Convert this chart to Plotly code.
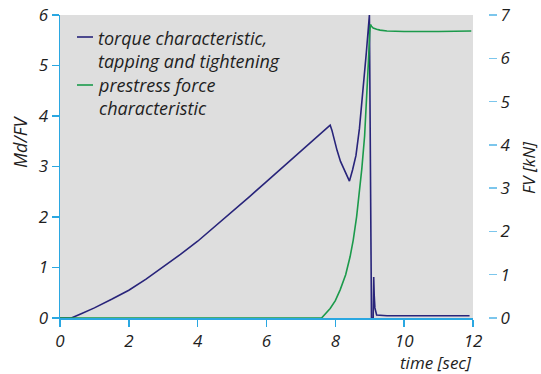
import plotly.graph_objects as go

# ---- data ----
torque_t = [0, 0.33, 0.6, 1.0, 1.5, 2.0, 2.5, 3.0, 3.5, 4.0, 4.5, 5.0, 5.5, 6.0, 6.5, 7.0, 7.5, 7.85,
            7.9, 7.95, 8.05, 8.15, 8.25, 8.41, 8.5, 8.6, 8.7, 8.8, 8.9, 8.99, 9.05, 9.1, 9.115, 9.13,
            9.15, 9.2, 9.5, 11.9]
torque_v = [0, 0, 0.08, 0.2, 0.37, 0.55, 0.77, 1.01, 1.26, 1.52, 1.81, 2.10, 2.40, 2.70, 3.0, 3.3, 3.6, 3.82,
            3.72, 3.57, 3.32, 3.10, 2.94, 2.71, 2.93, 3.22, 3.75, 4.45, 5.25, 6.0, 0.0, 0.0, 0.81, 0.45,
            0.2, 0.06, 0.045, 0.045]

force_t = [0, 7.6, 7.85, 8.0, 8.14, 8.3, 8.43, 8.52, 8.62, 8.7, 8.77, 8.85, 8.91, 8.96, 9.0, 9.02,
           9.05, 9.1, 9.2, 9.3, 9.5, 10.0, 11.0, 11.95]
force_v = [0, 0, 0.22, 0.4, 0.65, 1.0, 1.42, 1.8, 2.35, 2.9, 3.45, 4.2, 5.03, 5.9, 6.6, 6.78,
           6.74, 6.70, 6.67, 6.65, 6.63, 6.62, 6.62, 6.63]

x_ticks = [0, 2, 4, 6, 8, 10, 12]
y1_ticks = [0, 1, 2, 3, 4, 5, 6]
y2_ticks = [0, 1, 2, 3, 4, 5, 6, 7]

names = ["torque characteristic,<br>tapping and tightening", "prestress force<br>characteristic"]

NAVY = "#28247a"
GREEN = "#1b9a4b"
AXBLUE = "#2aa7e1"
TICK2 = "#7cc6ec"
TXT = "#1e1e1e"
FONT = dict(family="Open Sans", size=17, color=TXT, style="italic")
LFONT = dict(family="Open Sans", size=18, color=TXT, style="italic")

# page body margin is removed (post_script), so screen px == figure px
W, H = 541, 374
P_L, P_R, P_T, P_B = 60, 473, 15, 318          # plot area in px
ML, MT, MR = P_L, P_T, 0
MB = H - P_B
pw = W - ML - MR
ph = H - MT - MB


def px(xs):
    return (xs - ML) / pw


def py(ys):
    return 1 - (ys - MT) / ph


dom_end = px(P_R)

fig = go.Figure()
fig.add_trace(go.Scatter(x=force_t, y=force_v, yaxis="y2", mode="lines", name=names[1],
                         line=dict(color=GREEN, width=1.6), showlegend=False, cliponaxis=False))
fig.add_trace(go.Scatter(x=torque_t, y=torque_v, mode="lines", name=names[0],
                         line=dict(color=NAVY, width=1.6), showlegend=False, cliponaxis=False))

shapes = [
    dict(type="line", xref="paper", yref="paper", x0=px(77), x1=px(93), y0=py(37), y1=py(37),
         line=dict(color=NAVY, width=1.6)),
    dict(type="line", xref="paper", yref="paper", x0=px(77), x1=px(93), y0=py(85), y1=py(85),
         line=dict(color=GREEN, width=1.6)),
]

annotations = [
    dict(text=names[0], xref="paper", yref="paper", x=px(96), y=py(49.5), xanchor="left",
         yanchor="middle", align="left", showarrow=False, font=LFONT),
    dict(text=names[1], xref="paper", yref="paper", x=px(96), y=py(96), xanchor="left",
         yanchor="middle", align="left", showarrow=False, font=LFONT),
    dict(text="time [sec]", xref="paper", yref="paper", x=px(474), y=py(362.5), xanchor="right",
         yanchor="middle", showarrow=False, font=FONT),
    dict(text="Md/FV", xref="paper", yref="paper", x=px(20), y=py(142), xanchor="center",
         yanchor="middle", textangle=-90, showarrow=False, font=LFONT),
    dict(text="FV [kN]", xref="paper", yref="paper", x=px(528), y=py(168), xanchor="center",
         yanchor="middle", textangle=-90, showarrow=False, font=FONT),
]

fig.update_layout(
    template="none",
    width=W, height=H,
    margin=dict(l=ML, r=MR, t=MT, b=MB, pad=0),
    paper_bgcolor="white",
    plot_bgcolor="#dedede",
    font=FONT,
    showlegend=False,
    hovermode=False,
    xaxis=dict(domain=[0, dom_end], range=[0, 12], tickvals=x_ticks, showgrid=False, zeroline=False,
               showline=True, linecolor=AXBLUE, linewidth=1.5, ticks="outside", ticklen=7,
               tickcolor=AXBLUE, tickwidth=1.5, automargin=False, tickfont=FONT,
               ticklabeloverflow="allow", layer="below traces"),
    yaxis=dict(range=[0, 6], tickvals=y1_ticks, showgrid=False, zeroline=False,
               showline=True, linecolor=AXBLUE, linewidth=1.5, ticks="outside", ticklen=7,
               tickcolor=AXBLUE, tickwidth=1.5, automargin=False, tickfont=FONT,
               ticklabeloverflow="allow", layer="below traces"),
    yaxis2=dict(range=[0, 7], tickvals=y2_ticks, overlaying="y", anchor="free", position=px(488),
                side="right", showgrid=False, zeroline=False, showline=False, ticks="outside",
                ticklen=8, tickcolor=TICK2, tickwidth=1.5, automargin=False, tickfont=FONT,
                ticklabeloverflow="allow"),
    shapes=shapes,
    annotations=annotations,
)

fig.write_html("out.html",
               config={"displayModeBar": False, "staticPlot": True},
               post_script="document.body.style.margin='0';document.body.style.padding='0';")
